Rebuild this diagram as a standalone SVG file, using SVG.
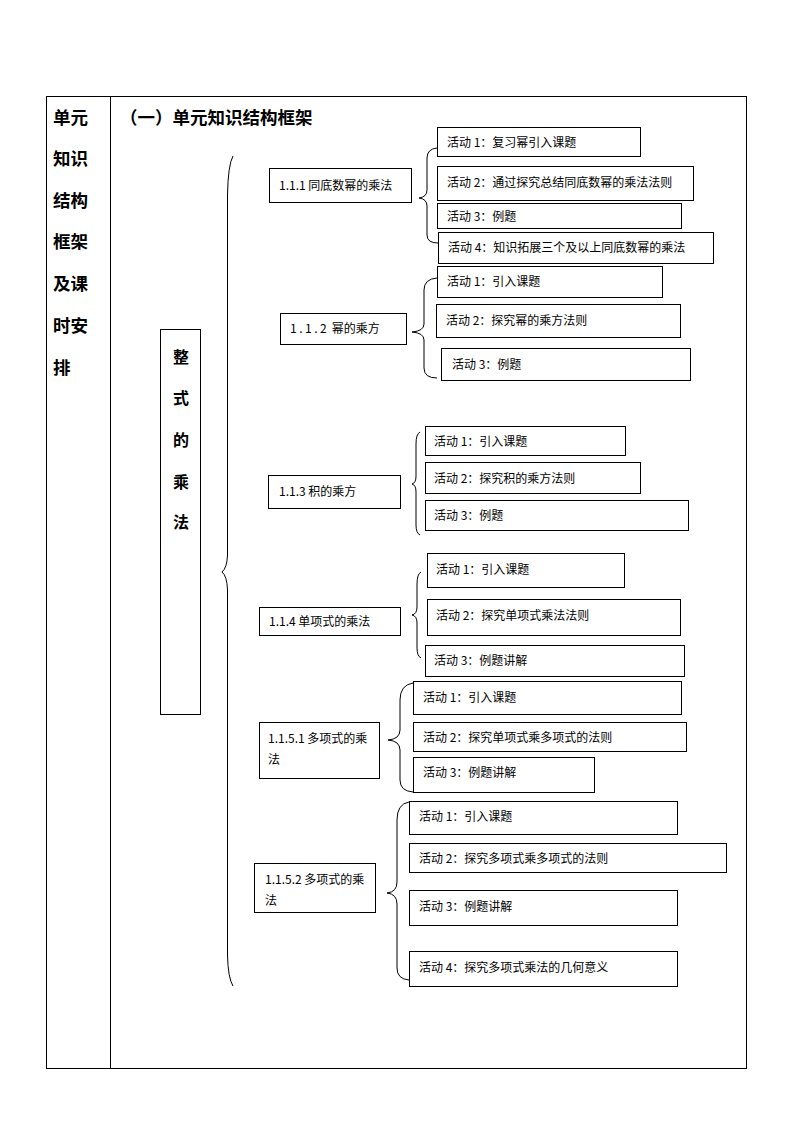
<svg xmlns="http://www.w3.org/2000/svg" width="794" height="1123" viewBox="0 0 794 1123">
<style>
  .frame{fill:none;stroke:#000;stroke-width:1}
  .box{fill:#fff;stroke:#000;stroke-width:1}
  .br{fill:none;stroke:#000;stroke-width:1}
  .t{font-family:"Noto Sans CJK SC","Liberation Sans",sans-serif;font-size:12px;fill:#000}
  .h{font-family:"Noto Sans CJK SC","Liberation Sans",sans-serif;font-size:17.5px;font-weight:bold;fill:#000}
  .v{font-family:"Noto Sans CJK SC","Liberation Sans",sans-serif;font-size:16px;font-weight:bold;fill:#000;text-anchor:middle}
</style>
<rect width="794" height="1123" fill="#fff"/>
<g id="table">
  <rect class="frame" x="46.5" y="96.5" width="700" height="972"/>
  <line class="frame" x1="110.5" y1="96.5" x2="110.5" y2="1068.5"/>
  <text class="h" x="53" y="124">单元</text>
  <text class="h" x="53" y="165">知识</text>
  <text class="h" x="53" y="207">结构</text>
  <text class="h" x="53" y="248">框架</text>
  <text class="h" x="53" y="290">及课</text>
  <text class="h" x="53" y="332">时安</text>
  <text class="h" x="53" y="374">排</text>
  <text class="h" x="120" y="124">（一）单元知识结构框架</text>
</g>
<g id="connectors">
  <path class="br" d="M233,156 Q228,165 227.5,195 L227.5,555 Q227,568 222,572 Q227,576 227.5,590 L227.5,955 Q228,978 233,986"/>
  <path class="br" d="M437,148 Q427,149 427,158 L427,190 Q427,197 419,198 Q427,199 427,206 L427,235 Q427,243 438,243"/>
  <path class="br" d="M437,278 Q424,279 424,290 L424,324 Q424,331 412,332 Q424,333 424,340 L424,368 Q424,378 437,378"/>
  <path class="br" d="M420,432 Q416,434 416,444 L416,476 Q416,483 412,484 Q416,485 416,492 L416,525 Q416,533 420,535"/>
  <path class="br" d="M421,572 Q417,574 417,584 L417,607 Q417,614 412,615 Q417,616 417,623 L417,648 Q417,656 421,658"/>
  <path class="br" d="M413,683 Q400,685 400,700 L400,730 Q400,739 388,740 Q400,741 400,750 L400,780 Q400,791 413,792"/>
  <path class="br" d="M409,802 Q397,804 397,820 L397,882 Q397,892 387,893 Q397,894 397,904 L397,968 Q397,979 409,980"/>
</g>
<g id="root">
  <rect class="box" x="160.5" y="329.5" width="40" height="385"/>
  <text class="v" x="181" y="363">整</text>
  <text class="v" x="181" y="404">式</text>
  <text class="v" x="181" y="446">的</text>
  <text class="v" x="181" y="488">乘</text>
  <text class="v" x="181" y="528">法</text>
</g>
<g id="n111">
  <rect class="box" x="269.5" y="168.5" width="142" height="34"/>
  <text class="t" x="279" y="190">1.1.1 同底数幂的乘法</text>
</g>
<g id="n112">
  <rect class="box" x="280.5" y="313.5" width="126" height="31"/>
  <text class="t" x="290" y="333"><tspan letter-spacing="2.5">1.1.2</tspan> 幂的乘方</text>
</g>
<g id="n113">
  <rect class="box" x="268.5" y="475.5" width="132" height="33"/>
  <text class="t" x="279" y="496">1.1.3 积的乘方</text>
</g>
<g id="n114">
  <rect class="box" x="259.5" y="607.5" width="141" height="28"/>
  <text class="t" x="269" y="626">1.1.4 单项式的乘法</text>
</g>
<g id="n1151">
  <rect class="box" x="259.5" y="722.5" width="120" height="56"/>
  <text class="t" x="268" y="743">1.1.5.1 多项式的乘</text>
  <text class="t" x="268" y="764">法</text>
</g>
<g id="n1152">
  <rect class="box" x="254.5" y="863.5" width="121" height="49"/>
  <text class="t" x="265" y="884">1.1.5.2 多项式的乘</text>
  <text class="t" x="265" y="905">法</text>
</g>
<g id="g1a1"><rect class="box" x="437.5" y="127.5" width="203" height="29"/><text class="t" x="447" y="147">活动 1：复习幂引入课题</text></g>
<g id="g1a2"><rect class="box" x="437.5" y="166.5" width="256" height="34"/><text class="t" x="447" y="187">活动 2：通过探究总结同底数幂的乘法法则</text></g>
<g id="g1a3"><rect class="box" x="437.5" y="203.5" width="244" height="25"/><text class="t" x="447" y="221">活动 3：例题</text></g>
<g id="g1a4"><rect class="box" x="438.5" y="232.5" width="275" height="31"/><text class="t" x="448" y="252">活动 4：知识拓展三个及以上同底数幂的乘法</text></g>
<g id="g2a1"><rect class="box" x="437.5" y="266.5" width="225" height="31"/><text class="t" x="447" y="286">活动 1：引入课题</text></g>
<g id="g2a2"><rect class="box" x="436.5" y="304.5" width="244" height="33"/><text class="t" x="446" y="325">活动 2：探究幂的乘方法则</text></g>
<g id="g2a3"><rect class="box" x="441.5" y="348.5" width="249" height="32"/><text class="t" x="452" y="369">活动 3：例题</text></g>
<g id="g3a1"><rect class="box" x="425.5" y="426.5" width="200" height="29"/><text class="t" x="434" y="446">活动 1：引入课题</text></g>
<g id="g3a2"><rect class="box" x="425.5" y="462.5" width="215" height="31"/><text class="t" x="434" y="483">活动 2：探究积的乘方法则</text></g>
<g id="g3a3"><rect class="box" x="425.5" y="500.5" width="263" height="30"/><text class="t" x="434" y="520">活动 3：例题</text></g>
<g id="g4a1"><rect class="box" x="427.5" y="553.5" width="197" height="34"/><text class="t" x="436" y="574">活动 1：引入课题</text></g>
<g id="g4a2"><rect class="box" x="427.5" y="599.5" width="253" height="36"/><text class="t" x="436" y="620">活动 2：探究单项式乘法法则</text></g>
<g id="g4a3"><rect class="box" x="425.5" y="645.5" width="259" height="31"/><text class="t" x="434" y="665">活动 3：例题讲解</text></g>
<g id="g5a1"><rect class="box" x="413.5" y="681.5" width="268" height="33"/><text class="t" x="423" y="702">活动 1：引入课题</text></g>
<g id="g5a2"><rect class="box" x="413.5" y="722.5" width="273" height="29"/><text class="t" x="423" y="742">活动 2：探究单项式乘多项式的法则</text></g>
<g id="g5a3"><rect class="box" x="413.5" y="757.5" width="181" height="35"/><text class="t" x="423" y="777">活动 3：例题讲解</text></g>
<g id="g6a1"><rect class="box" x="409.5" y="801.5" width="268" height="33"/><text class="t" x="419" y="821">活动 1：引入课题</text></g>
<g id="g6a2"><rect class="box" x="409.5" y="843.5" width="317" height="29"/><text class="t" x="419" y="863">活动 2：探究多项式乘多项式的法则</text></g>
<g id="g6a3"><rect class="box" x="409.5" y="890.5" width="268" height="35"/><text class="t" x="419" y="911">活动 3：例题讲解</text></g>
<g id="g6a4"><rect class="box" x="409.5" y="951.5" width="268" height="35"/><text class="t" x="419" y="972">活动 4：探究多项式乘法的几何意义</text></g>
</svg>
